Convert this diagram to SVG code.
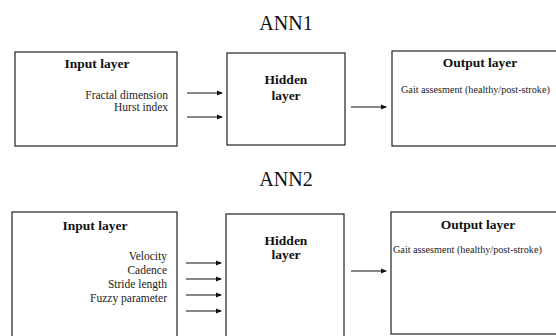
<svg xmlns="http://www.w3.org/2000/svg" width="556" height="336" viewBox="0 0 556 336">
<style>
.box{fill:#fff;stroke:#222;stroke-width:1.2}
.title{font-size:20px;fill:#111;text-anchor:middle}
.head{font-size:13.5px;font-weight:bold;fill:#111;text-anchor:middle}
.lab{font-size:11.5px;fill:#222;text-anchor:end}
.out{font-size:10.2px;fill:#222}
.arr{stroke:#111;stroke-width:1.2;fill:none;marker-end:url(#ah)}
</style>
<defs>
<marker id="ah" markerWidth="6" markerHeight="6" refX="5" refY="3" orient="auto" markerUnits="userSpaceOnUse">
<path d="M0,0.5 L6,3 L0,5.5 Z" fill="#111"/>
</marker>
</defs>
<g font-family="Liberation Serif, Times New Roman, serif">
<text class="title" x="286" y="30">ANN1</text>
<text class="title" x="286" y="186">ANN2</text>
<g id="ann1-input">
<rect class="box" x="15" y="52" width="162" height="94"/>
<text class="head" x="97" y="68">Input layer</text>
<text class="lab" x="168" y="99">Fractal dimension</text>
<text class="lab" x="168" y="111">Hurst index</text>
</g>
<g id="ann1-hidden">
<rect class="box" x="227" y="53" width="118" height="92"/>
<text class="head" x="286" y="84">Hidden</text>
<text class="head" x="286" y="100">layer</text>
</g>
<g id="ann1-output">
<rect class="box" x="392" y="51" width="170" height="95"/>
<text class="head" x="480" y="67">Output layer</text>
<text class="out" x="401" y="93">Gait assesment (healthy/post-stroke)</text>
</g>
<g id="ann2-input">
<rect class="box" x="12" y="212" width="165" height="130"/>
<text class="head" x="95" y="230">Input layer</text>
<text class="lab" x="167" y="260">Velocity</text>
<text class="lab" x="167" y="274">Cadence</text>
<text class="lab" x="167" y="288">Stride length</text>
<text class="lab" x="167" y="302">Fuzzy parameter</text>
</g>
<g id="ann2-hidden">
<rect class="box" x="226" y="214" width="118" height="128"/>
<text class="head" x="286" y="245">Hidden</text>
<text class="head" x="286" y="259">layer</text>
</g>
<g id="ann2-output">
<rect class="box" x="391" y="212" width="171" height="122"/>
<text class="head" x="478" y="229">Output layer</text>
<text class="out" x="393" y="253">Gait assesment (healthy/post-stroke)</text>
</g>
</g>
<g id="connectors">
<line class="arr" x1="187" y1="93" x2="222" y2="93"/>
<line class="arr" x1="187" y1="117" x2="222" y2="117"/>
<line class="arr" x1="351" y1="107" x2="386" y2="107"/>
<line class="arr" x1="186" y1="263" x2="221" y2="263"/>
<line class="arr" x1="186" y1="279" x2="221" y2="279"/>
<line class="arr" x1="186" y1="295" x2="221" y2="295"/>
<line class="arr" x1="186" y1="311" x2="221" y2="311"/>
<line class="arr" x1="351" y1="271" x2="386" y2="271"/>
</g>
</svg>
